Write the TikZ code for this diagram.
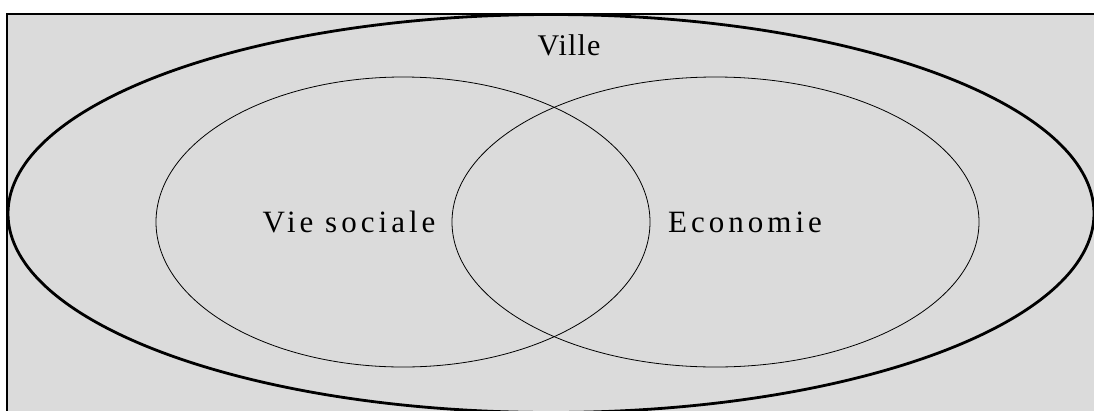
\documentclass[tikz,border=0pt]{standalone}
\usepackage{fontspec}
\newfontfamily\vennfont[LetterSpace=13]{Liberation Serif}
\newfontfamily\townfont[LetterSpace=4]{Liberation Serif}
\usepackage{xcolor}
\definecolor{paper}{RGB}{219,219,219}

\begin{document}
\begin{tikzpicture}[x=1pt, y=-1pt,
    vennlabel/.style={font=\vennfont\fontsize{31}{31}\selectfont, anchor=base, inner sep=0pt},
    vennset/.style={draw, line width=0.8pt}
  ]
    \clip (0,0) rectangle (1094,410);
    \fill[white] (0,0) rectangle (1094,410);
    \draw[fill=paper, line width=1.6pt] (7,14) rectangle (1120,430);
    % the town and its two parts
    \draw[line width=2.8pt] (551,213.5) ellipse [x radius=543, y radius=199];
    \draw[vennset] (403,222) ellipse [x radius=247, y radius=145];
    \draw[vennset] (715.5,222) ellipse [x radius=263.5, y radius=145];
    \node[vennlabel, font=\townfont\fontsize{30}{30}\selectfont] (ville) at (569,55) {Ville};
    \node[vennlabel] (social) at (349,232) {Vie sociale};
    \node[vennlabel] (eco) at (745,232) {Economie};
  \end{tikzpicture}
\end{document}
